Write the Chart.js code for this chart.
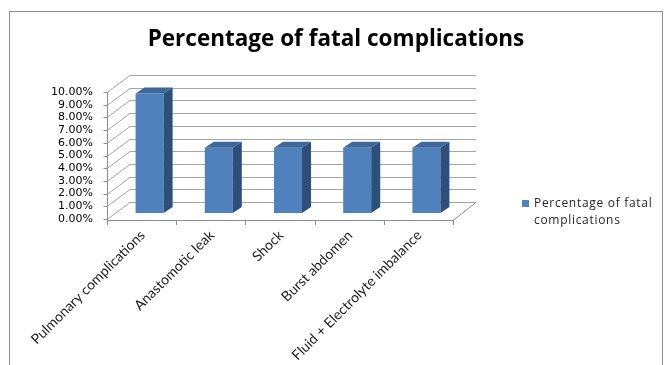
<!DOCTYPE html>
<html>
<head>
<meta charset="utf-8">
<script src="https://cdn.jsdelivr.net/npm/chart.js@4/dist/chart.umd.min.js"></script>
<style>
  html, body { margin: 0; padding: 0; background: #ffffff; }
  #wrap { width: 665px; height: 365px; }
</style>
</head>
<body>
<div id="wrap"><canvas id="fatalChart" width="665" height="365"></canvas></div>
<script>
/* ========================================
   Fatal complications - 3D style column chart
   ======================================== */

const categories = [
    'Pulmonary complications',
    'Anastomotic leak',
    'Shock',
    'Burst abdomen',
    'Fluid + Electrolyte imbalance'
];
const fatalPercent = [9.40, 5.13, 5.13, 5.13, 5.13];
const seriesName = 'Percentage of fatal complications';
const yTicks = [0, 1, 2, 3, 4, 5, 6, 7, 8, 9, 10];

// depth offsets relative to the plane the bar fronts sit in
const FRONT = { dx: -8, dy: 6 };
const BACK = { dx: 15, dy: -11 };
const BAR_DEPTH = { dx: 9, dy: -6 };

const colors = {
    front: '#4f81bd',
    top: '#3e679b',
    side: '#2d4f7b',
    grid: '#a3a3a3',
    axis: '#8c8c8c',
    border: '#8a8a8a'
};

// back wall, floor and the left axis, drawn behind the bars
const wallPlugin = {
    id: 'walls',
    beforeDatasetsDraw(chart) {
        const { ctx, chartArea, scales } = chart;
        const y = scales.y;
        const L = chartArea.left, R = chartArea.right;
        ctx.save();
        ctx.lineWidth = 1;

        // gridlines: diagonal on the side wall, then across the back wall
        ctx.strokeStyle = colors.grid;
        yTicks.forEach(v => {
            const py = Math.round(y.getPixelForValue(v));
            ctx.beginPath();
            ctx.moveTo(L + FRONT.dx, py + FRONT.dy + 0.5);
            ctx.lineTo(L + BACK.dx, py + BACK.dy + 0.5);
            ctx.lineTo(R + BACK.dx, py + BACK.dy + 0.5);
            ctx.stroke();
        });

        // floor edge
        const y0 = Math.round(y.getPixelForValue(0));
        ctx.strokeStyle = colors.axis;
        ctx.beginPath();
        ctx.moveTo(L + FRONT.dx, y0 + FRONT.dy + 1.5);
        ctx.lineTo(R + FRONT.dx, y0 + FRONT.dy + 1.5);
        ctx.lineTo(R + BACK.dx, y0 + BACK.dy + 0.5);
        ctx.stroke();

        // left value axis with small ticks
        const ax = Math.round(L + FRONT.dx) + 0.5;
        const yTop = Math.round(y.getPixelForValue(10));
        ctx.beginPath();
        ctx.moveTo(ax, yTop + FRONT.dy);
        ctx.lineTo(ax, y0 + FRONT.dy + 2);
        yTicks.forEach(v => {
            const py = Math.round(y.getPixelForValue(v)) + FRONT.dy + 0.5;
            ctx.moveTo(ax - 4, py);
            ctx.lineTo(ax, py);
        });
        ctx.stroke();

        // category ticks below the floor edge
        const step = (R - L) / categories.length;
        ctx.beginPath();
        for (let i = 0; i <= categories.length; i++) {
            const tx = Math.round(L + FRONT.dx + i * step) + 0.5;
            ctx.moveTo(tx, y0 + FRONT.dy + 1);
            ctx.lineTo(tx, y0 + FRONT.dy + 6);
        }
        ctx.stroke();
        ctx.restore();
    },

    // top and side faces of every bar
    afterDatasetsDraw(chart) {
        const { ctx } = chart;
        const meta = chart.getDatasetMeta(0);
        ctx.save();
        meta.data.forEach(bar => {
            const { x, y, base, width } = bar.getProps(['x', 'y', 'base', 'width'], true);
            const l = x - width / 2, r = x + width / 2;
            ctx.fillStyle = colors.top;
            ctx.beginPath();
            ctx.moveTo(l, y);
            ctx.lineTo(l + BAR_DEPTH.dx, y + BAR_DEPTH.dy);
            ctx.lineTo(r + BAR_DEPTH.dx, y + BAR_DEPTH.dy);
            ctx.lineTo(r, y);
            ctx.closePath();
            ctx.fill();
            ctx.fillStyle = colors.side;
            ctx.beginPath();
            ctx.moveTo(r, y);
            ctx.lineTo(r + BAR_DEPTH.dx, y + BAR_DEPTH.dy);
            ctx.lineTo(r + BAR_DEPTH.dx, base + BAR_DEPTH.dy);
            ctx.lineTo(r, base);
            ctx.closePath();
            ctx.fill();
        });
        ctx.restore();
    },

    // frame, title and the legend on the right
    afterDraw(chart) {
        const { ctx } = chart;
        ctx.save();
        ctx.strokeStyle = colors.border;
        ctx.lineWidth = 1;
        ctx.strokeRect(9.5, 11.5, 653, 400);

        ctx.fillStyle = '#000000';
        ctx.font = 'bold 22.5px "Open Sans"';
        ctx.textAlign = 'center';
        ctx.textBaseline = 'middle';
        ctx.fillText(seriesName, 336, 40);

        ctx.fillStyle = colors.front;
        ctx.fillRect(522, 200, 7, 7);
        ctx.fillStyle = '#262626';
        ctx.font = '12px "Open Sans"';
        ctx.textAlign = 'left';
        ctx.letterSpacing = '0.7px';
        ctx.fillText('Percentage of fatal', 534, 204);
        ctx.fillText('complications', 534, 221);
        ctx.restore();
    }
};

new Chart(document.getElementById('fatalChart'), {
    type: 'bar',
    data: {
        labels: categories,
        datasets: [{
            label: seriesName,
            data: fatalPercent,
            backgroundColor: colors.front,
            borderWidth: 0,
            barPercentage: 0.405,
            categoryPercentage: 1
        }]
    },
    options: {
        responsive: false,
        animation: false,
        layout: { padding: { left: 0, right: 204, top: 86, bottom: 0 } },
        plugins: {
            legend: { display: false },
            tooltip: { enabled: false },
            title: { display: false }
        },
        scales: {
            y: {
                min: 0,
                max: 10,
                afterFit(scale) { scale.width = 115; },
                afterBuildTicks(scale) { scale.ticks = yTicks.map(v => ({ value: v })); },
                grid: { display: false, drawTicks: false },
                border: { display: false },
                ticks: {
                    autoSkip: false,
                    padding: 22,
                    labelOffset: FRONT.dy,
                    color: '#000000',
                    font: { family: 'DejaVu Sans', size: 11 },
                    callback: v => v.toFixed(2) + '%'
                }
            },
            x: {
                afterFit(scale) { scale.height = 152; },
                grid: { display: false, drawTicks: false },
                border: { display: false },
                ticks: {
                    autoSkip: false,
                    minRotation: 45,
                    maxRotation: 45,
                    padding: 14,
                    labelOffset: -7,
                    color: '#1a1a1a',
                    font: { family: 'Lato', size: 14 }
                }
            }
        }
    },
    plugins: [wallPlugin]
});
</script>
</body>
</html>
